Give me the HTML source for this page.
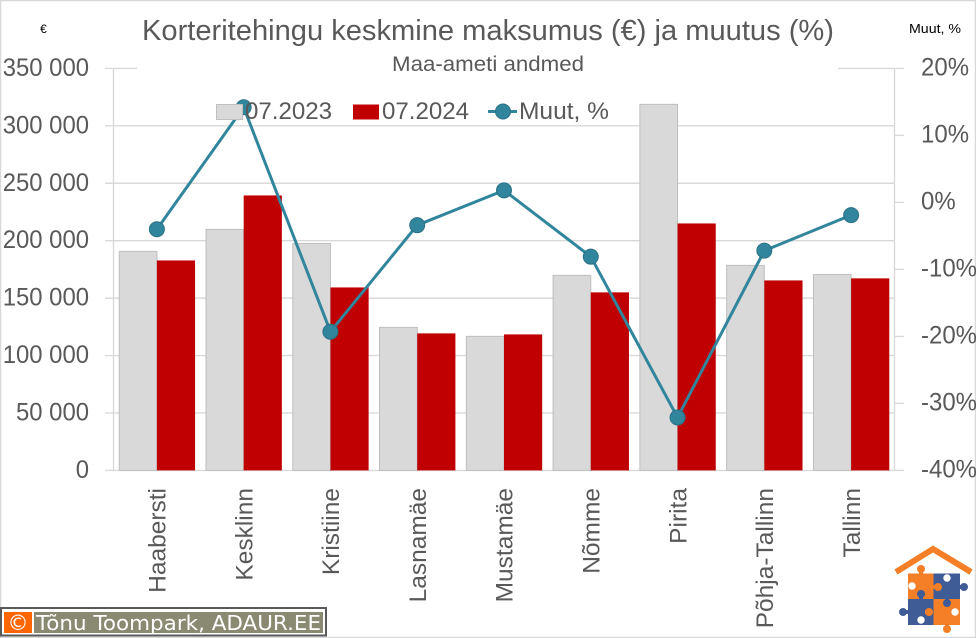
<!DOCTYPE html>
<html lang="et">
<head>
<meta charset="utf-8">
<title>Korteritehingu keskmine maksumus</title>
<style>
html,body{margin:0;padding:0;background:#fff;}
body{width:976px;height:638px;overflow:hidden;}
svg{display:block;font-family:"Liberation Sans",sans-serif;}
</style>
</head>
<body>
<svg id="chart" xmlns="http://www.w3.org/2000/svg" width="976" height="638" viewBox="0 0 976 638">
  <rect x="0" y="0" width="976" height="638" fill="#fff"/>
  <rect x="0.5" y="0.5" width="975" height="637" fill="none" stroke="#d9d9d9" stroke-width="1.5"/>
  <g id="grid"></g>
  <g id="bars"></g>
  <g id="line"></g>
  <g id="axes"></g>

  <rect x="137" y="10" width="701" height="66" fill="#fff"/>
  <text x="488" y="40" text-anchor="middle" font-size="29" fill="#595959" textLength="692" lengthAdjust="spacingAndGlyphs">Korteritehingu keskmine maksumus (€) ja muutus (%)</text>
  <text x="488" y="71" text-anchor="middle" font-size="21" fill="#595959" textLength="192" lengthAdjust="spacingAndGlyphs">Maa-ameti andmed</text>
  <text x="43.5" y="33" text-anchor="middle" font-size="12" fill="#000">€</text>
  <text x="909" y="33" font-size="12.5" fill="#000" textLength="52" lengthAdjust="spacingAndGlyphs">Muut, %</text>

  <g>
    <rect x="216.5" y="104.5" width="26" height="15" fill="#d9d9d9" stroke="#bfbfbf" stroke-width="1"/>
    <text x="245" y="119" font-size="24.5" fill="#595959" textLength="87" lengthAdjust="spacingAndGlyphs">07.2023</text>
    <rect x="353" y="104.5" width="26" height="15" fill="#c00000"/>
    <text x="382" y="119" font-size="24.5" fill="#595959" textLength="87" lengthAdjust="spacingAndGlyphs">07.2024</text>
    <line x1="488" y1="111.5" x2="517" y2="111.5" stroke="#31859c" stroke-width="3"/>
    <circle cx="503" cy="111.5" r="7.5" fill="#31859c" stroke="#2a7286" stroke-width="1"/>
    <text x="519" y="119" font-size="24.5" fill="#595959" textLength="90" lengthAdjust="spacingAndGlyphs">Muut, %</text>
  </g>

  <g>
    <rect x="1" y="608" width="325" height="27.5" fill="#fff" stroke="#595959" stroke-width="2"/>
    <rect x="4" y="612" width="28" height="21" fill="#ff6600"/>
    <text x="18" y="630" text-anchor="middle" font-size="21" fill="#fff" style="font-family:'DejaVu Sans',sans-serif">©</text>
    <rect x="34" y="612" width="289" height="21" fill="#8a8a72"/>
    <text x="36" y="630" font-size="20" fill="#fff" textLength="285" lengthAdjust="spacingAndGlyphs" style="font-family:'DejaVu Sans',sans-serif">Tõnu Toompark, ADAUR.EE</text>
  </g>

  <g>
    <polyline points="896,572 933,549 971,572" fill="none" stroke="#f47f26" stroke-width="6"/>
    <rect x="908" y="573.5" width="25.5" height="25.5" fill="#f47f26"/>
    <rect x="933.5" y="573.5" width="26.5" height="25.5" fill="#3f5c96"/>
    <rect x="908" y="599" width="25.5" height="26" fill="#3f5c96"/>
    <rect x="933.5" y="599" width="26.5" height="26" fill="#f47f26"/>
    <g fill="#f47f26">
      <circle cx="921" cy="569" r="4"/><circle cx="938" cy="587" r="4"/><circle cx="929" cy="612" r="4"/><circle cx="947" cy="629" r="4"/>
      <rect x="919" y="570" width="4" height="5"/><rect x="932" y="585" width="4" height="4"/><rect x="925" y="610" width="4" height="4"/><rect x="945" y="623" width="4" height="4"/>
    </g>
    <g fill="#3f5c96">
      <circle cx="964" cy="587" r="4"/><circle cx="921" cy="594" r="4"/><circle cx="903" cy="612" r="4"/><circle cx="947" cy="603" r="4"/>
      <rect x="958" y="585" width="4" height="4"/><rect x="919" y="596" width="4" height="4"/><rect x="905" y="610" width="4" height="4"/><rect x="945" y="597" width="4" height="4"/>
    </g>
    <g fill="#fff">
      <circle cx="912" cy="586" r="3.7"/><circle cx="947" cy="578" r="3.7"/><circle cx="921" cy="620" r="3.7"/><circle cx="955" cy="612" r="3.7"/>
    </g>
  </g>
</svg>
<script>
const categories = ['Haabersti', 'Kesklinn', 'Kristiine', 'Lasnamäe', 'Mustamäe', 'Nõmme', 'Pirita', 'Põhja-Tallinn', 'Tallinn'];
const values2023 = [190700, 209800, 197600, 124500, 116700, 169800, 318700, 178500, 170600];
const values2024 = [182800, 239400, 159300, 119300, 118400, 155000, 215000, 165400, 167200];
const changePct = [-4.0, 14.2, -19.3, -3.4, 1.8, -8.1, -32.1, -7.2, -1.9];
const leftTickValues = [0, 50000, 100000, 150000, 200000, 250000, 300000, 350000];
const leftTickLabels = ['0', '50 000', '100 000', '150 000', '200 000', '250 000', '300 000', '350 000'];
const rightTickValues = [-40, -30, -20, -10, 0, 10, 20];
const rightTickLabels = ['-40%', '-30%', '-20%', '-10%', '0%', '10%', '20%'];

const plot = { left: 113.5, right: 894.5, top: 68.4, bottom: 470.4 };
const NS = 'http://www.w3.org/2000/svg';
function yLeft(v) { return plot.bottom - (v / 350000) * (plot.bottom - plot.top); }
function yRight(v) { return plot.bottom - ((v + 40) / 60) * (plot.bottom - plot.top); }
function xCenter(i) { return plot.left + (i + 0.5) * (plot.right - plot.left) / categories.length; }
const barWidth = (plot.right - plot.left) / categories.length * 0.44;
function make(tag, attrs, parent, text) {
  const n = document.createElementNS(NS, tag);
  for (const k in attrs) n.setAttribute(k, attrs[k]);
  if (text !== undefined) n.textContent = text;
  parent.appendChild(n);
  return n;
}
const gridG = document.getElementById('grid');
const barsG = document.getElementById('bars');
const lineG = document.getElementById('line');
const axesG = document.getElementById('axes');
const AXC = '#d9d9d9';

leftTickValues.forEach(function (v, i) {
  const y = yLeft(v);
  const g = make('line', { x1: 105, x2: plot.right, y1: y, y2: y, stroke: AXC, 'stroke-width': 1.4 }, gridG);
  
  
  const t = make('text', { transform: 'translate(89,' + (y + 7.5) + ') scale(0.955,1)', 'text-anchor': 'end', 'font-size': 25, fill: '#595959' }, axesG, leftTickLabels[i]);
  
  
});
rightTickValues.forEach(function (v, i) {
  const y = yRight(v);
  const g = make('line', { x1: plot.right, x2: 904, y1: y, y2: y, stroke: AXC, 'stroke-width': 1.4 }, gridG);
  
  
  const t = make('text', { transform: 'translate(921,' + (y + 7) + ') scale(0.96,1)', 'font-size': 25, fill: '#595959' }, axesG, rightTickLabels[i]);
  
  
});
const leftAxis = make('line', { x1: plot.left, x2: plot.left, y1: plot.top, y2: plot.bottom, stroke: AXC, 'stroke-width': 1.4 }, gridG);


const rightAxis = make('line', { x1: plot.right, x2: plot.right, y1: plot.top, y2: plot.bottom, stroke: AXC, 'stroke-width': 1.4 }, gridG);



categories.forEach(function (c, i) {
  const x = xCenter(i);
  const y1 = yLeft(values2023[i]);
  const y2 = yLeft(values2024[i]);
  const a = make('rect', { x: x - barWidth + 0.5, y: y1, width: barWidth - 0.5, height: plot.bottom - y1, fill: '#d9d9d9', stroke: '#bfbfbf', 'stroke-width': 1 }, barsG);
  
  
  const b = make('rect', { x: x, y: y2, width: barWidth, height: plot.bottom - y2, fill: '#c00000' }, barsG);
  
  
  const t = make('text', { transform: 'translate(' + (x + 8.7) + ',488) rotate(-90) scale(1,1)', 'text-anchor': 'end', 'font-size': 24.5, fill: '#595959' }, axesG, c);
  
  
});

const pts = changePct.map(function (v, i) { return xCenter(i) + ',' + yRight(v); }).join(' ');
const poly = make('polyline', { points: pts, fill: 'none', stroke: '#31859c', 'stroke-width': 3, 'stroke-linejoin': 'round' }, lineG);


changePct.forEach(function (v, i) {
  const m = make('circle', { cx: xCenter(i), cy: yRight(v), r: 7.5, fill: '#31859c', stroke: '#2a7286', 'stroke-width': 1 }, lineG);
  
  
});
</script>
</body>
</html>
